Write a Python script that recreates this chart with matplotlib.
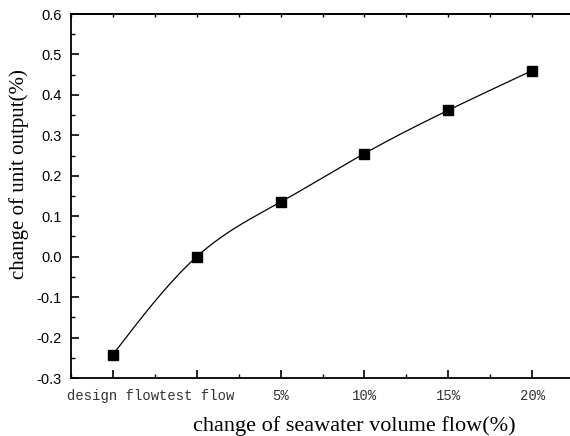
import numpy as np
import matplotlib
matplotlib.use("Agg")
import matplotlib.pyplot as plt
from matplotlib.ticker import MultipleLocator, NullFormatter

plt.rcParams["axes.unicode_minus"] = False

categories = ["design flow", "test flow", "5%", "10%", "15%", "20%"]
output_change = [-0.242, 0.0, 0.135, 0.255, 0.362, 0.460]


def natural_spline(x, y, n=200):
    # plain natural cubic spline, used only to draw the smooth line
    x = np.asarray(x, float)
    y = np.asarray(y, float)
    k = len(x)
    h = np.diff(x)
    A = np.zeros((k, k))
    b = np.zeros(k)
    A[0, 0] = 1
    A[-1, -1] = 1
    for i in range(1, k - 1):
        A[i, i - 1] = h[i - 1]
        A[i, i] = 2 * (h[i - 1] + h[i])
        A[i, i + 1] = h[i]
        b[i] = 3 * ((y[i + 1] - y[i]) / h[i] - (y[i] - y[i - 1]) / h[i - 1])
    c = np.linalg.solve(A, b)
    xs = np.linspace(x[0], x[-1], n)
    ys = np.empty_like(xs)
    for j, xv in enumerate(xs):
        i = min(np.searchsorted(x, xv, side="right") - 1, k - 2)
        d = xv - x[i]
        bi = (y[i + 1] - y[i]) / h[i] - h[i] * (2 * c[i] + c[i + 1]) / 3
        di = (c[i + 1] - c[i]) / (3 * h[i])
        ys[j] = y[i] + bi * d + c[i] * d ** 2 + di * d ** 3
    return xs, ys


xpos = np.arange(len(categories))

fig = plt.figure(figsize=(5.7, 4.36), dpi=100)
ax = fig.add_axes([71 / 570, 1 - 378 / 436, (574 - 71) / 570, (378 - 14) / 436])

sx, sy = natural_spline(xpos, output_change)
ax.plot(sx, sy, color="black", lw=0.9)
ax.plot(xpos, output_change, "s", color="black", ms=7)

ax.set_xlim(-0.5, 5.5)
ax.set_ylim(-0.3, 0.6)
ax.set_xticks(xpos)
ax.set_xticklabels(categories, family=["Liberation Mono", "DejaVu Sans Mono"], fontsize=10, color="#333333")
ax.xaxis.set_minor_locator(MultipleLocator(0.5))
ax.yaxis.set_major_locator(MultipleLocator(0.1))
ax.yaxis.set_minor_locator(MultipleLocator(0.05))
for lab in ax.get_yticklabels():
    lab.set_family("Liberation Sans")
    lab.set_fontsize(10.5)

ax.tick_params(axis="both", which="major", direction="in", length=6, width=1.2)
ax.tick_params(axis="both", which="minor", direction="in", length=3, width=1.0)
ax.tick_params(axis="x", which="major", pad=8)
ax.tick_params(axis="y", which="major", pad=6.5)
ax.spines["right"].set_visible(False)
for s in ["left", "bottom", "top"]:
    ax.spines[s].set_linewidth(1.3)

# small ticks along the top edge
top = ax.secondary_xaxis("top")
top.set_xticks(xpos)
top.xaxis.set_minor_locator(MultipleLocator(0.5))
top.xaxis.set_major_formatter(NullFormatter())
top.tick_params(which="both", direction="in", length=2, width=1.0)
top.spines["top"].set_linewidth(1.3)

ax.set_ylabel("change of unit output(%)", family="Liberation Serif", fontsize=15)
ax.yaxis.set_label_coords(-0.083, 0.56)
ax.set_xlabel("change of seawater volume flow(%)", family="Liberation Serif", fontsize=16)
ax.xaxis.set_label_coords(0.563, -0.105)

fig.savefig("out.png", dpi=100)
